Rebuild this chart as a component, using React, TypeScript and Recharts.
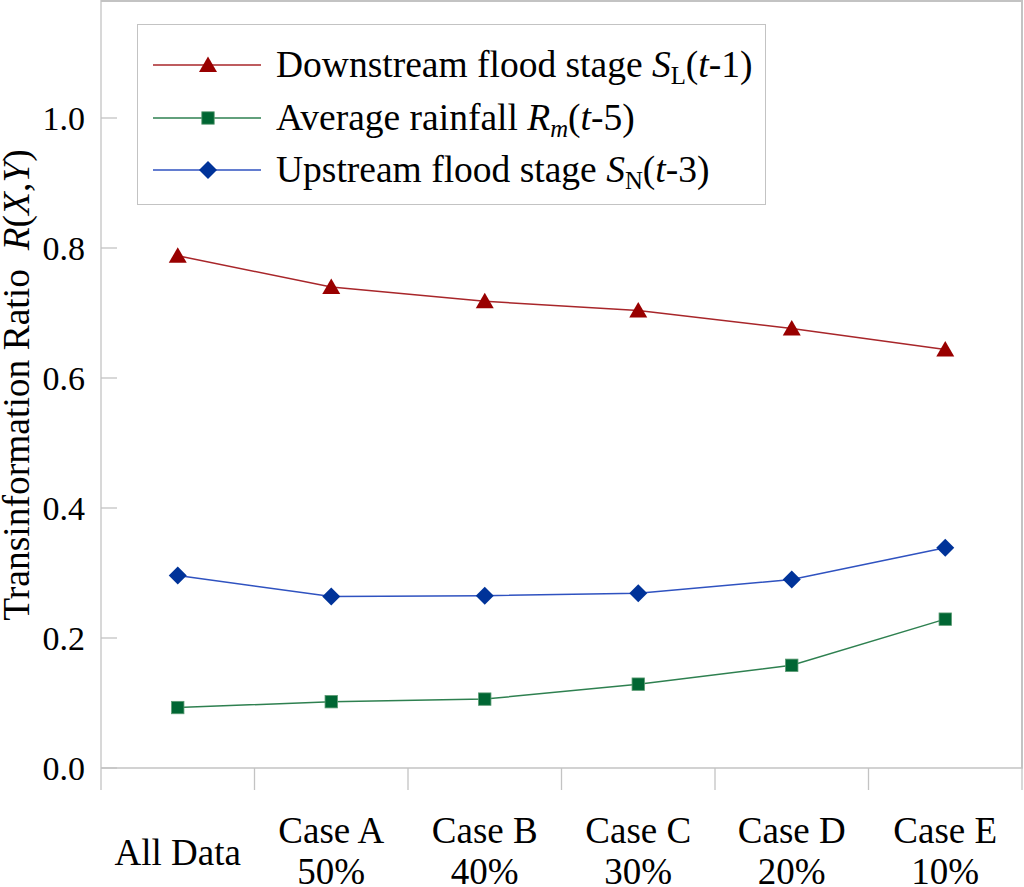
import React from 'react';
import { LineChart, Line, XAxis, YAxis, Legend } from 'recharts';

const categories = ['All Data', 'Case A', 'Case B', 'Case C', 'Case D', 'Case E'];
const percentLabels = ['', '50%', '40%', '30%', '20%', '10%'];
const downstream = [0.788, 0.74, 0.718, 0.704, 0.676, 0.644];
const rainfall = [0.093, 0.102, 0.106, 0.129, 0.158, 0.229];
const upstream = [0.296, 0.264, 0.265, 0.269, 0.29, 0.339];
const yTicks = [0, 0.2, 0.4, 0.6, 0.8, 1.0];
const frameTicks = [0, 1, 2, 3, 4, 5, 6];
const yMax = 1.18;

const data = categories.map((c, i) => ({
  category: c,
  pos: i + 0.5,
  downstream: downstream[i],
  rainfall: rainfall[i],
  upstream: upstream[i],
}));

const FONT = '"Liberation Serif", "Times New Roman", serif';
const GRAY = '#c3c3c3';

const RED_LINE = '#a8262a';
const RED_FILL = '#990000';
const GREEN_LINE = '#2e8050';
const GREEN_FILL = '#006633';
const BLUE_LINE = '#2f52c0';
const BLUE_FILL = '#003399';

const Triangle = ({ cx, cy, fill }: any) => (
  <path d={`M${cx},${cy - 8.5} L${cx + 9},${cy + 7} L${cx - 9},${cy + 7} Z`} fill={fill} />
);
const Square = ({ cx, cy, fill }: any) => (
  <rect x={cx - 6.2} y={cy - 6.2} width={12.4} height={12.4} fill={fill} stroke="#5a9a72" strokeWidth={0.8} />
);
const Diamond = ({ cx, cy, fill }: any) => (
  <path d={`M${cx},${cy - 9} L${cx + 9},${cy} L${cx},${cy + 9} L${cx - 9},${cy} Z`} fill={fill} />
);

const dotTri = (p: any) => <Triangle key={`t${p.index}`} cx={p.cx} cy={p.cy} fill={RED_FILL} />;
const dotSq = (p: any) => <Square key={`s${p.index}`} cx={p.cx} cy={p.cy} fill={GREEN_FILL} />;
const dotDia = (p: any) => <Diamond key={`d${p.index}`} cx={p.cx} cy={p.cy} fill={BLUE_FILL} />;

const NoTick = () => <g />;

const Sub = ({ children }: any) => (
  <span style={{ fontSize: '0.66em', position: 'relative', top: '0.28em' }}>{children}</span>
);

const legendItems = [
  {
    line: RED_LINE,
    marker: (cx: number, cy: number) => <Triangle cx={cx} cy={cy} fill={RED_FILL} />,
    label: (
      <>
        Downstream flood stage <i>S</i>
        <Sub>L</Sub>(<i>t</i>-1)
      </>
    ),
  },
  {
    line: GREEN_LINE,
    marker: (cx: number, cy: number) => <Square cx={cx} cy={cy} fill={GREEN_FILL} />,
    label: (
      <>
        Average rainfall <i>R</i>
        <Sub>
          <i>m</i>
        </Sub>
        (<i>t</i>-5)
      </>
    ),
  },
  {
    line: BLUE_LINE,
    marker: (cx: number, cy: number) => <Diamond cx={cx} cy={cy} fill={BLUE_FILL} />,
    label: (
      <>
        Upstream flood stage <i>S</i>
        <Sub>N</Sub>(<i>t</i>-3)
      </>
    ),
  },
];

const LegendContent = () => (
  <div
    style={{
      position: 'relative',
      width: '100%',
      height: '100%',
      boxSizing: 'border-box',
      border: `1px solid ${GRAY}`,
      background: '#fff',
      fontFamily: FONT,
    }}
  >
    {legendItems.map((it, i) => (
      <div
        key={i}
        style={{
          position: 'absolute',
          left: 0,
          top: 40 + i * 52.5 - 20,
          height: 40,
          display: 'flex',
          alignItems: 'center',
          whiteSpace: 'nowrap',
        }}
      >
        <svg width={124} height={40} style={{ marginLeft: 15, flex: 'none' }}>
          <line x1={0} y1={20} x2={108} y2={20} stroke={it.line} strokeWidth={1.5} />
          {it.marker(55, 20)}
        </svg>
        <span style={{ fontSize: 37.5, lineHeight: 1, color: '#000', marginLeft: -1 }}>{it.label}</span>
      </div>
    ))}
  </div>
);

const XTick = (props: any) => {
  const { x, y, payload } = props;
  const idx = categories.indexOf(payload.value);
  const pct = percentLabels[idx];
  const common = { textAnchor: 'middle' as const, fontSize: 37, fill: '#000', fontFamily: FONT };
  if (!pct) {
    return (
      <text {...common} x={x} y={y + 96}>
        {payload.value}
      </text>
    );
  }
  return (
    <text {...common}>
      <tspan x={x} y={y + 74}>
        {payload.value}
      </tspan>
      <tspan x={x} y={y + 115}>
        {pct}
      </tspan>
    </text>
  );
};

const YTitle = () => (
  <text
    x={29}
    y={385}
    transform="rotate(-90 29 385)"
    textAnchor="middle"
    fontSize={37.5}
    fill="#000"
    fontFamily={FONT}
  >
    Transinformation Ratio{'\u00a0\u00a0'}
    <tspan fontStyle="italic">R</tspan>(<tspan fontStyle="italic">X</tspan>,<tspan fontStyle="italic">Y</tspan>)
  </text>
);

export default function App() {
  return (
    <div style={{ position: 'absolute', left: 0, top: 0, width: 1024, height: 887, fontFamily: FONT, background: '#fff' }}>
      <LineChart width={1024} height={887} data={data} margin={{ top: 0, right: 0, bottom: 0, left: 0 }}>
        <XAxis
          xAxisId="frame"
          dataKey="pos"
          type="number"
          domain={[0, 6]}
          ticks={frameTicks}
          allowDataOverflow
          tick={NoTick}
          tickSize={22}
          height={1}
          axisLine={{ stroke: GRAY, strokeWidth: 1.3 }}
          tickLine={{ stroke: GRAY, strokeWidth: 1.3 }}
        />
        <XAxis
          xAxisId="labels"
          dataKey="category"
          type="category"
          scale="band"
          interval={0}
          height={118}
          axisLine={false}
          tickLine={false}
          tickSize={0}
          tickMargin={0}
          tick={<XTick />}
        />
        <XAxis
          xAxisId="top"
          orientation="top"
          dataKey="pos"
          type="number"
          domain={[0, 6]}
          ticks={frameTicks}
          allowDataOverflow
          tick={NoTick}
          tickSize={1}
          height={1}
          axisLine={{ stroke: GRAY, strokeWidth: 1.6 }}
          tickLine={{ stroke: GRAY, strokeWidth: 1.3 }}
        />
        <YAxis
          yAxisId="main"
          domain={[0, yMax]}
          ticks={yTicks}
          allowDataOverflow
          width={101}
          axisLine={{ stroke: GRAY, strokeWidth: 1.3 }}
          tickLine={false}
          tickSize={0}
          tickMargin={16}
          tickFormatter={(v: number) => v.toFixed(1)}
          tick={{ fontSize: 34, fill: '#000', fontFamily: FONT }}
          label={<YTitle />}
        />
        <YAxis
          yAxisId="inner"
          mirror
          domain={[0, yMax]}
          ticks={yTicks}
          allowDataOverflow
          tick={NoTick}
          axisLine={false}
          tickSize={16}
          tickLine={{ stroke: GRAY, strokeWidth: 1.3 }}
        />
        <YAxis
          yAxisId="right"
          orientation="right"
          domain={[0, yMax]}
          ticks={yTicks}
          allowDataOverflow
          tick={NoTick}
          tickSize={1}
          width={2}
          axisLine={{ stroke: GRAY, strokeWidth: 1.6 }}
          tickLine={{ stroke: GRAY, strokeWidth: 1.3 }}
        />
        <Legend
          layout="vertical"
          align="center"
          verticalAlign="middle"
          content={<LegendContent />}
          wrapperStyle={{ left: 137, top: 24, width: 629, height: 181 }}
        />
        <Line
          xAxisId="labels"
          yAxisId="main"
          dataKey="downstream"
          stroke={RED_LINE}
          strokeWidth={1.5}
          dot={dotTri}
          activeDot={false}
          isAnimationActive={false}
        />
        <Line
          xAxisId="labels"
          yAxisId="main"
          dataKey="rainfall"
          stroke={GREEN_LINE}
          strokeWidth={1.5}
          dot={dotSq}
          activeDot={false}
          isAnimationActive={false}
        />
        <Line
          xAxisId="labels"
          yAxisId="main"
          dataKey="upstream"
          stroke={BLUE_LINE}
          strokeWidth={1.5}
          dot={dotDia}
          activeDot={false}
          isAnimationActive={false}
        />
      </LineChart>
      <div
        style={{
          position: 'absolute',
          left: 101,
          top: 0,
          width: 922,
          height: 768,
          boxSizing: 'border-box',
          borderTop: `2px solid ${GRAY}`,
          borderRight: `2px solid ${GRAY}`,
          pointerEvents: 'none',
        }}
      />
    </div>
  );
}
